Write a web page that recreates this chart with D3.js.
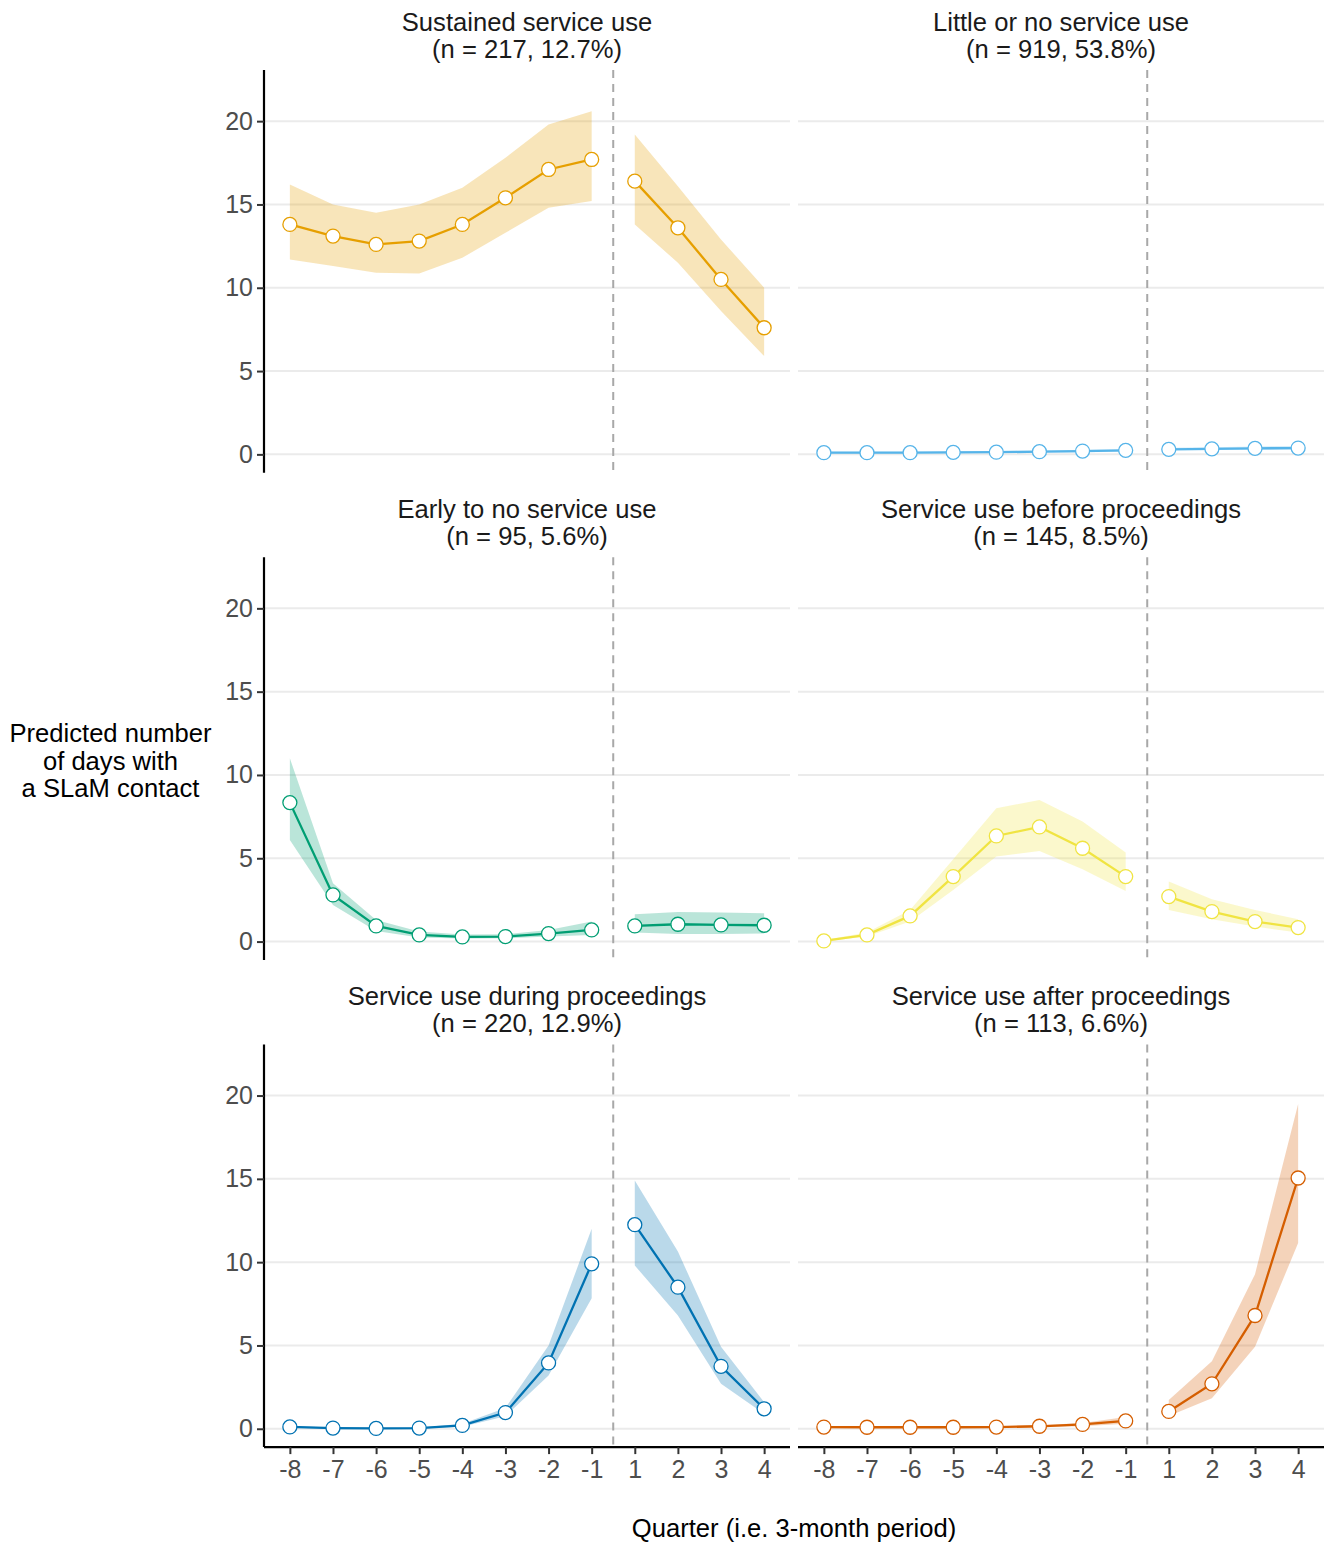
<!DOCTYPE html>
<html>
<head>
<meta charset="utf-8">
<script src="https://cdn.jsdelivr.net/npm/d3@7"></script>
<style>
  html, body { margin: 0; padding: 0; background: #ffffff; }
  svg { display: block; font-family: "Liberation Sans", Arial, sans-serif; }
</style>
</head>
<body>
<svg id="chart" width="1330" height="1544"></svg>
<script>
// ---------- data ----------
const quarters = ["-8", "-7", "-6", "-5", "-4", "-3", "-2", "-1", "1", "2", "3", "4"];
const yTicks = [0, 5, 10, 15, 20];

const classNames = [
  "Sustained service use",
  "Little or no service use",
  "Early to no service use",
  "Service use before proceedings",
  "Service use during proceedings",
  "Service use after proceedings"
];
const classSizes = ["(n = 217, 12.7%)", "(n = 919, 53.8%)", "(n = 95, 5.6%)",
                    "(n = 145, 8.5%)", "(n = 220, 12.9%)", "(n = 113, 6.6%)"];
const classColors = ["#E69F00", "#56B4E9", "#009E73", "#F0E442", "#0072B2", "#D55E00"];

const sustainedEst = [13.8, 13.1, 12.6, 12.8, 13.8, 15.4, 17.1, 17.7, 16.4, 13.6, 10.5, 7.6];
const sustainedLo  = [11.7, 11.3, 10.9, 10.85, 11.8, 13.3, 14.8, 15.2, 13.8, 11.5, 8.6, 5.9];
const sustainedHi  = [16.2, 15.0, 14.5, 15.0, 16.0, 17.8, 19.8, 20.6, 19.2, 16.1, 12.9, 10.0];

const littleEst = [0.1, 0.1, 0.1, 0.12, 0.13, 0.16, 0.2, 0.24, 0.3, 0.33, 0.36, 0.38];
const littleLo  = [0.05, 0.05, 0.06, 0.07, 0.08, 0.1, 0.13, 0.15, 0.24, 0.26, 0.28, 0.29];
const littleHi  = [0.15, 0.16, 0.16, 0.18, 0.2, 0.22, 0.27, 0.3, 0.4, 0.43, 0.47, 0.5];

const earlyEst = [8.34, 2.8, 0.94, 0.4, 0.28, 0.3, 0.48, 0.7, 0.94, 1.04, 1.0, 0.98];
const earlyLo  = [6.1, 2.2, 0.64, 0.25, 0.18, 0.2, 0.3, 0.4, 0.54, 0.46, 0.45, 0.48];
const earlyHi  = [11.0, 3.5, 1.3, 0.6, 0.42, 0.44, 0.7, 1.2, 1.64, 1.78, 1.74, 1.7];

const beforeEst = [0.04, 0.4, 1.54, 3.9, 6.34, 6.88, 5.6, 3.9, 2.7, 1.8, 1.2, 0.84];
const beforeLo  = [0.0, 0.3, 1.2, 3.1, 5.1, 5.44, 4.34, 3.04, 1.9, 1.34, 0.9, 0.54];
const beforeHi  = [0.1, 0.55, 1.9, 4.94, 8.0, 8.5, 7.2, 5.34, 3.6, 2.54, 1.9, 1.34];

const duringEst = [0.11, 0.04, 0.02, 0.04, 0.2, 0.97, 3.95, 9.9, 12.25, 8.5, 3.75, 1.2];
const duringLo  = [0.06, 0.02, 0.01, 0.02, 0.12, 0.75, 3.2, 7.83, 9.8, 6.8, 2.7, 0.9];
const duringHi  = [0.16, 0.08, 0.05, 0.08, 0.3, 1.25, 5.0, 12.0, 14.9, 10.64, 4.92, 1.6];

const afterEst = [0.1, 0.09, 0.09, 0.09, 0.1, 0.15, 0.26, 0.47, 1.04, 2.7, 6.8, 15.05];
const afterLo  = [0.06, 0.05, 0.05, 0.05, 0.06, 0.09, 0.15, 0.3, 0.76, 1.83, 4.92, 11.15];
const afterHi  = [0.14, 0.13, 0.13, 0.13, 0.15, 0.21, 0.35, 0.7, 1.73, 4.06, 9.28, 19.5];

const estimates = [sustainedEst, littleEst, earlyEst, beforeEst, duringEst, afterEst];
const lowers = [sustainedLo, littleLo, earlyLo, beforeLo, duringLo, afterLo];
const uppers = [sustainedHi, littleHi, earlyHi, beforeHi, duringHi, afterHi];

// ---------- layout ----------
const svg = d3.select("#chart");
const panelW = 526, panelH = 402.7;
const colX = [264, 798];
const rowY = [70, 557.2, 1044.4];
const yDomain = [-1.1, 23.07];
const font = 25.6, tickFont = 25;

classNames.forEach((name, i) => {
  const col = i % 2, row = Math.floor(i / 2);
  const x0 = colX[col], y0 = rowY[row];
  const color = classColors[i];
  const x = d3.scalePoint().domain(quarters).range([x0, x0 + panelW]).padding(0.6);
  const y = d3.scaleLinear().domain(yDomain).range([y0 + panelH, y0]);
  const g = svg.append("g");

  // gridlines
  g.selectAll("line.grid").data(yTicks).join("line")
    .attr("x1", x0).attr("x2", x0 + panelW)
    .attr("y1", d => y(d)).attr("y2", d => y(d))
    .attr("stroke", "#EBEBEB").attr("stroke-width", 2);

  // dashed separator between -1 and 1
  const xv = (x("-1") + x("1")) / 2;
  g.append("line")
    .attr("x1", xv).attr("x2", xv).attr("y1", y0).attr("y2", y0 + panelH)
    .attr("stroke", "#A8A8A8").attr("stroke-width", 2).attr("stroke-dasharray", "8,6");

  const rows = quarters.map((q, k) => ({ q, est: estimates[i][k], lo: lowers[i][k], hi: uppers[i][k], pre: k < 8 }));
  const segments = [rows.filter(d => d.pre), rows.filter(d => !d.pre)];

  const area = d3.area().x(d => x(d.q)).y0(d => y(d.lo)).y1(d => y(d.hi));
  const line = d3.line().x(d => x(d.q)).y(d => y(d.est));

  segments.forEach(seg => {
    g.append("path").attr("d", area(seg)).attr("fill", color).attr("fill-opacity", 0.27);
  });
  segments.forEach(seg => {
    g.append("path").attr("d", line(seg)).attr("fill", "none")
      .attr("stroke", color).attr("stroke-width", 2.3);
  });
  g.selectAll("circle").data(rows).join("circle")
    .attr("cx", d => x(d.q)).attr("cy", d => y(d.est)).attr("r", 7)
    .attr("fill", "#ffffff").attr("stroke", color).attr("stroke-width", 1.3);

  // strip titles
  g.append("text").attr("x", x0 + panelW / 2).attr("y", y0 - 39.5)
    .attr("text-anchor", "middle").attr("font-size", font).attr("fill", "#1A1A1A").text(name);
  g.append("text").attr("x", x0 + panelW / 2).attr("y", y0 - 12.5)
    .attr("text-anchor", "middle").attr("font-size", font).attr("fill", "#1A1A1A").text(classSizes[i]);

  // y axis (left column)
  if (col === 0) {
    const yAxis = g.append("g").attr("transform", `translate(${x0},0)`)
      .call(d3.axisLeft(y).tickValues(yTicks).tickSize(7).tickPadding(4));
    yAxis.select(".domain").attr("stroke", "#000").attr("stroke-width", 2.2)
      .attr("d", `M0,${y0}V${y0 + panelH}`);
    yAxis.selectAll(".tick line").attr("stroke", "#333333").attr("stroke-width", 2);
    yAxis.selectAll(".tick text").attr("font-size", tickFont).attr("fill", "#4D4D4D")
      .attr("font-family", "Liberation Sans, Arial, sans-serif");
  }
  // x axis (bottom row)
  if (row === 2) {
    const xAxis = g.append("g").attr("transform", `translate(0,${y0 + panelH})`)
      .call(d3.axisBottom(x).tickSize(7).tickPadding(6));
    xAxis.select(".domain").attr("stroke", "#000").attr("stroke-width", 2.2)
      .attr("d", `M${x0},0H${x0 + panelW}`);
    xAxis.selectAll(".tick line").attr("stroke", "#333333").attr("stroke-width", 2);
    xAxis.selectAll(".tick text").attr("font-size", tickFont).attr("fill", "#4D4D4D")
      .attr("font-family", "Liberation Sans, Arial, sans-serif");
  }
});

// axis titles
svg.append("text").attr("x", 794).attr("y", 1537).attr("text-anchor", "middle")
  .attr("font-size", font).attr("fill", "#000").text("Quarter (i.e. 3-month period)");

const yTitle = ["Predicted number", "of days with", "a SLaM contact"];
svg.append("g").selectAll("text").data(yTitle).join("text")
  .attr("x", 110.5).attr("y", (d, k) => 742 + k * 27.5).attr("text-anchor", "middle")
  .attr("font-size", font).attr("fill", "#000").text(d => d);
</script>
</body>
</html>
